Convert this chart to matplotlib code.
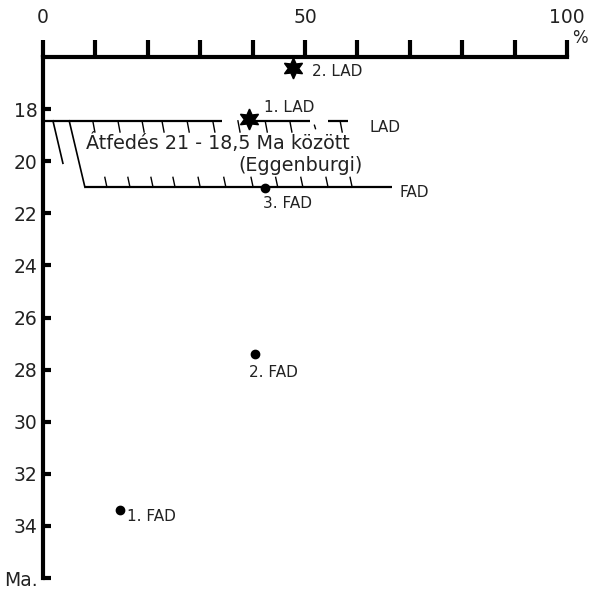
import matplotlib
matplotlib.use("Agg")
import matplotlib.pyplot as plt

# ---- data ----
x_ticks = [0, 10, 20, 30, 40, 50, 60, 70, 80, 90, 100]
x_labels = ["0", "", "", "", "", "50", "", "", "", "", "100"]
y_ticks = [18, 20, 22, 24, 26, 28, 30, 32, 34, 36]
y_labels = ["18", "20", "22", "24", "26", "28", "30", "32", "34", "Ma."]

lad_pct = [47.7, 39.3]
lad_age = [16.42, 18.38]
lad_names = ["2. LAD", "1. LAD"]

fad_pct = [42.4, 40.5, 14.7]
fad_age = [21.04, 27.42, 33.38]
fad_names = ["3. FAD", "2. FAD", "1. FAD"]

lad_line_age = 18.45
lad_segments = [(0.0, 34.2), (39.3, 51.0), (54.4, 58.2)]
lad_hatch_pct = [9.5, 14.3, 18.9, 22.7, 27.5, 32.4, 37.2, 42.4, 47.1, 56.7]
lad_hatch_end = 18.88

fad_line_age = 21.0
fad_line_pct = (8.0, 66.6)
fad_hatch_pct = [12.2, 16.6, 21.0, 25.2, 30.0, 34.9, 40.1, 44.8, 49.6, 54.4, 59.0]
fad_hatch_end = 20.62

slant_a = ((1.9, 18.45), (3.8, 20.08))
slant_b = ((5.0, 18.45), (8.0, 21.0))

# ---- figure ----
fig = plt.figure(figsize=(5.94, 5.89), dpi=100)
ax = fig.add_axes([43/594, 1-578/589, (567-43)/594, (578-57)/589])
ax.set_xlim(0, 100)
ax.set_ylim(36, 16)

for s in ["right", "bottom"]:
    ax.spines[s].set_visible(False)
for s in ["top", "left"]:
    ax.spines[s].set_linewidth(3)
    ax.spines[s].set_capstyle("projecting")

tc = "#222222"
ax.xaxis.tick_top()
ax.set_xticks(x_ticks)
ax.set_xticklabels(x_labels, fontsize=13.5, color=tc)
ax.tick_params(axis="x", direction="out", length=12.5, width=3, pad=9, color="black")
ax.set_yticks(y_ticks)
ax.set_yticklabels(y_labels, fontsize=13.5, color=tc)
ax.tick_params(axis="y", direction="in", length=6, width=3, pad=4)

ax.text(102.5, 15.27, "%", fontsize=12, ha="center", va="center", color=tc, clip_on=False)

lw = 1.6
# LAD line segments
for a, b in lad_segments:
    ax.plot([a, b], [lad_line_age, lad_line_age], color="black", lw=lw, solid_capstyle="butt")
for p in lad_hatch_pct:
    ax.plot([p, p + 0.4], [lad_line_age, lad_hatch_end], color="black", lw=1.0)
ax.plot([51.8, 52.0], [18.62, 18.75], color="black", lw=1.0)

# FAD line
ax.plot(list(fad_line_pct), [fad_line_age, fad_line_age], color="black", lw=lw, solid_capstyle="butt")
for p in fad_hatch_pct:
    ax.plot([p - 0.4, p], [fad_hatch_end, fad_line_age], color="black", lw=1.0)

# slanted closure lines
for (x0, y0), (x1, y1) in [slant_a, slant_b]:
    ax.plot([x0, x1], [y0, y1], color="black", lw=1.2)

# markers
ax.plot(lad_pct, lad_age, linestyle="none", marker=(6, 1, 0), markersize=15, color="black")
ax.plot(fad_pct, fad_age, linestyle="none", marker="o", markersize=6, color="black")

ax.text(51.3, 16.55, "2. LAD", fontsize=11, ha="left", va="center", color=tc)
ax.text(42.2, 17.95, "1. LAD", fontsize=11, ha="left", va="center", color=tc)
ax.text(62.4, 18.7, "LAD", fontsize=11, ha="left", va="center", color=tc)
ax.text(8.2, 19.3, "Átfedés 21 - 18,5 Ma között", fontsize=13.8, ha="left", va="center", color=tc)
ax.text(49.2, 20.15, "(Eggenburgi)", fontsize=13.8, ha="center", va="center", color=tc)
ax.text(68.1, 21.2, "FAD", fontsize=11, ha="left", va="center", color=tc)
ax.text(42.0, 21.62, "3. FAD", fontsize=11, ha="left", va="center", color=tc)
ax.text(39.3, 28.1, "2. FAD", fontsize=11, ha="left", va="center", color=tc)
ax.text(16.0, 33.65, "1. FAD", fontsize=11, ha="left", va="center", color=tc)

fig.savefig("out.png", dpi=100)
